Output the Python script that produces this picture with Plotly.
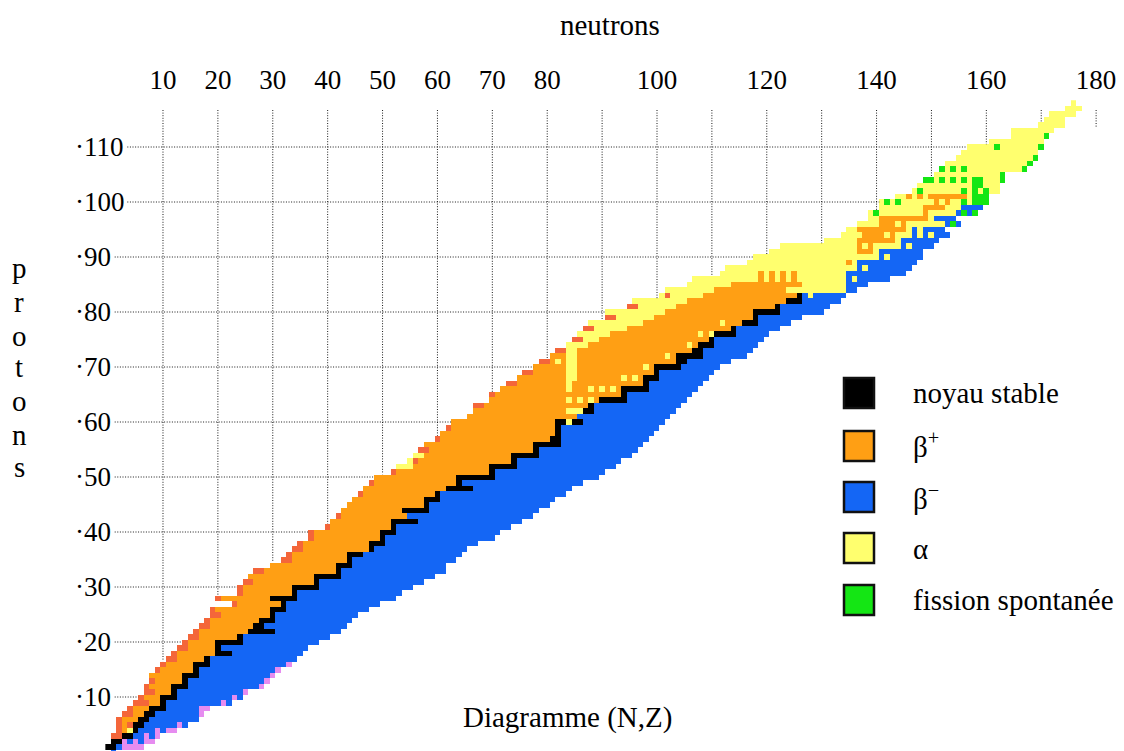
import re
import plotly.graph_objects as go

# ---------------- data ----------------
# decay mode of every nuclide, row by row (proton number Z), run-length encoded
# starting at neutron number n_start[Z].
# R = proton emission, O = beta+, K = stable, B = beta-, V = neutron emission,
# Y = alpha, G = spontaneous fission
z_values = list(range(0, 119))
n_start = [
    1, 0, 1, 1, 2, 2, 2, 3, 4, 5,
    6, 7, 7, 8, 8, 9, 10, 11, 12, 13,
    14, 15, 16, 17, 18, 19, 19, 23, 20, 24,
    24, 25, 26, 27, 30, 32, 33, 34, 35, 37,
    37, 40, 41, 42, 43, 44, 45, 46, 47, 48,
    49, 52, 53, 55, 56, 57, 58, 60, 61, 62,
    63, 66, 67, 67, 70, 70, 72, 73, 75, 76,
    78, 79, 81, 82, 84, 85, 86, 87, 88, 91,
    91, 95, 96, 101, 102, 106, 107, 112, 113, 117,
    118, 121, 123, 131, 134, 135, 137, 139, 139, 141,
    141, 144, 147, 148, 149, 151, 152, 153, 155, 156,
    157, 161, 165, 165, 170, 171, 172, 175, 176,
]
row_runs = [
    "B1", "K2B1V4", "K2V1B1V1B1V2", "R2K2B2V1B1V1", "R1O1Y1K1B3V1B1V2",
    "R1O1R1K2B6V1B1", "R1O3K2B9", "R2O2K2B8V1", "R1O3K3B6V2", "R3O2K1B10V1B1",
    "R1O3K3B10V1B1", "R2O3K1B12V1", "R1O4K3B13V1", "R1O5K1B14V1", "O6K3B13V1",
    "R1O6K1B14V1", "R1O5K3B14V1", "R2O5K1B16", "R1O7K3B13", "R2O5K1B16",
    "R1O5K5B14", "R2O7K1B16", "R1O9K5B12", "R2O8K2B15", "R1O9K3B14",
    "R2O9K1B15", "R1O10K3B15", "R1O8K1B17", "R1O9K5B18", "R1O9K1B19",
    "R1O9K5B17", "R2O11K1B19", "O12K5B17", "R2O13K1B19", "O12K3B17",
    "R2O10K1B19", "R1O10K3B18", "R2O12K1B17", "R1O12K3B17", "R1O12K1B20",
    "R1O12K3B19", "R1O11K1B21", "O11K5B19", "R1O12B23", "O11K5B20",
    "O14K1B22", "O13K3B21", "R1O13K1B23", "O15K5B18", "R1O15K1B22",
    "O15K7B19", "R1O17K1B20", "Y3O14K5B18", "Y1R1O17K1B19", "Y2O16K5B17",
    "R2O19K1B18", "O20K5B15", "R1O20K2B16", "O21K1B17", "R1O19K1B18",
    "O19K2Y1K2B15", "O20B17", "O17Y3K2B15", "R2O19K1B16", "O14Y1O1Y1O1Y1O1K5B11",
    "R1O23K1B12", "O12Y1O3Y1O1Y1O1Y1O1K5B9", "R2O9Y1O13K1B10", "O9Y2O8Y1O1Y1O1K3B9",
    "R2O6Y2O14K1B10",
    "O6Y2O12Y1O1K5B7", "R2O1Y1O1Y2O18K2B8", "O3Y2O16Y1O1K5B8", "R2Y2O21K2B9",
    "Y4O18Y1O1K3B8",
    "R2Y3O20K1B9", "Y6O16Y1O1Y1K4B6", "R2Y6O19K1B8", "Y10O14Y1O3K3B6", "R2Y7O18K1B8",
    "Y11O16K5B8", "R2Y7O18K1B9", "Y10O18K3B7", "Y1R1Y6O17K1B1Y1B6", "Y9O13Y11B2",
    "Y8O13Y8B4", "Y12O1Y1O1Y1O1Y1O1Y9B1Y1B6", "Y7O1Y1O1Y1O1Y1O1Y9B11", "Y24B1Y1B8", "Y18O1Y1B11",
    "Y23B1Y1B6", "Y16O3Y1B8", "Y14O1Y1O1Y5B1Y1B4", "Y6O7Y1B7", "Y4O4Y1O1Y3B1Y1B1Y1B3",
    "Y2O9Y1B1Y1B4", "Y4O3Y1O1Y7B1G1B1", "Y2O9Y1B4", "Y1G1Y8O1Y5B1G1B1G1", "Y8O4Y3B4",
    "Y1G1Y1G1Y6O1Y1O1Y2G1Y1G3", "Y2O1Y1O1Y1O7Y1G3", "Y1G1Y7G1Y1G1Y1G1Y2", "Y10G2Y3",
    "G2Y1G1Y1G1Y1G1Y1G2Y3G1",
    "Y12G1", "G1Y1G1Y1G1Y10G1", "Y15G1", "Y14G1", "Y14",
    "Y5G1Y7G1", "Y10", "Y6G1", "Y8", "Y5",
    "Y4", "Y5", "Y3", "Y1",
]

mode_codes = ["R", "O", "K", "B", "V", "Y", "G"]
mode_colors = ["#F4663A", "#FF9F14", "#000000", "#1466F5", "#E68CF0", "#FFFF6E", "#14E614"]

x_tickvals = [10, 20, 30, 40, 50, 60, 70, 80, 100, 120, 140, 160, 180]
y_tickvals = [10, 20, 30, 40, 50, 60, 70, 80, 90, 100, 110]
grid_n = list(range(10, 181, 10))
grid_z = list(range(10, 111, 10))

legend_labels = ["noyau stable", "β<sup>+</sup>", "β<sup>−</sup>", "α", "fission spontanée"]
legend_codes = ["K", "O", "B", "Y", "G"]

# ---------------- build the grid ----------------
N_MAX = 182
grid = [[None] * (N_MAX + 1) for _ in z_values]
row_end = []
for z, n0, runs in zip(z_values, n_start, row_runs):
    n = n0
    for code, cnt in re.findall(r"([A-Z])(\d+)", runs):
        for _ in range(int(cnt)):
            grid[z][n] = mode_codes.index(code) + 1
            n += 1
    row_end.append(n - 1)

k = len(mode_colors)
colorscale = []
for i, c in enumerate(mode_colors):
    colorscale.append([i / k, c])
    colorscale.append([(i + 1) / k, c])

fig = go.Figure()
fig.add_trace(go.Heatmap(
    x=list(range(N_MAX + 1)), y=z_values, z=grid,
    colorscale=colorscale, zmin=0.5, zmax=k + 0.5,
    showscale=False, hoverinfo="skip",
))

# ---------------- pixel geometry (reference pixels; page body adds 8px) ----------------
OFF = 8
W, H = 1124 - OFF, 751 - OFF
PL, PR, PT, PB = 72, 1115, 95, 751
PX_N, N0_PX = 5.489, 108.1
PX_Z, Z0_PY = 5.5, 752.0
x_range = [(PL - N0_PX) / PX_N, (PR - N0_PX) / PX_N]
y_range = [(Z0_PY - PB) / PX_Z, (Z0_PY - PT) / PX_Z]


def px(x):
    return (x - PL) / (PR - PL)


def py(y):
    return (PB - y) / (PB - PT)


# ---------------- grid lines (only in the empty upper-left part) ----------------
gx, gy = [], []
GRID_TOP = (Z0_PY - 110) / PX_Z
for z in grid_z:
    left = 3.5 if z >= 100 else 1.2
    gx += [left, n_start[z] - 0.5, None]
    gy += [z, z, None]
for n in grid_n:
    zs = [z for z in z_values if n_start[z] <= n <= row_end[z]]
    bottom = max(zs) + 0.5 if zs else (Z0_PY - 127) / PX_Z
    gx += [n, n, None]
    gy += [GRID_TOP, bottom, None]
fig.add_trace(go.Scatter(
    x=gx, y=gy, mode="lines", hoverinfo="skip",
    line=dict(color="#1a1a1a", width=1, dash="1px,1.6px"),
))

FONT = "Liberation Serif, Times New Roman, serif"


def text_ann(x, y, text, xanchor="center"):
    return dict(x=px(x), y=py(y), xref="paper", yref="paper", text=text,
                xanchor=xanchor, yanchor="middle", showarrow=False,
                font=dict(family=FONT, size=29, color="black"))


annotations = [text_ann(610, 25, "neutrons"), text_ann(567, 717, "Diagramme (N,Z)")]
for ch, yy in zip("protons", [268, 302, 336, 367, 401, 435, 467]):
    annotations.append(text_ann(19, yy, ch))

shapes = []
sq_tops = [378, 431, 482, 533, 585]
text_y = [393, 445, 497, 549, 600]
for lab, code, top, ty in zip(legend_labels, legend_codes, sq_tops, text_y):
    col = mode_colors[mode_codes.index(code)]
    shapes.append(dict(type="rect", xref="paper", yref="paper",
                       x0=px(844), x1=px(874), y0=py(top + 30), y1=py(top),
                       fillcolor=col, line=dict(color="#111111", width=2.5)))
    annotations.append(text_ann(911, ty, lab, xanchor="left"))

fig.update_layout(
    width=W, height=H,
    margin=dict(l=PL - OFF, r=1124 - PR, t=PT - OFF, b=0),
    paper_bgcolor="white", plot_bgcolor="white",
    showlegend=False,
    xaxis=dict(range=x_range, side="top", tickvals=x_tickvals,
               ticktext=[str(v) for v in x_tickvals],
               showgrid=False, zeroline=False, showline=False, ticks="",
               tickfont=dict(family=FONT, size=27, color="black")),
    yaxis=dict(range=y_range, tickvals=y_tickvals,
               ticktext=["·" + str(v) for v in y_tickvals],
               ticklabelposition="inside",
               showgrid=False, zeroline=False, showline=False, ticks="",
               tickfont=dict(family=FONT, size=27, color="black")),
    shapes=shapes, annotations=annotations,
)

fig.write_html("out.html")
